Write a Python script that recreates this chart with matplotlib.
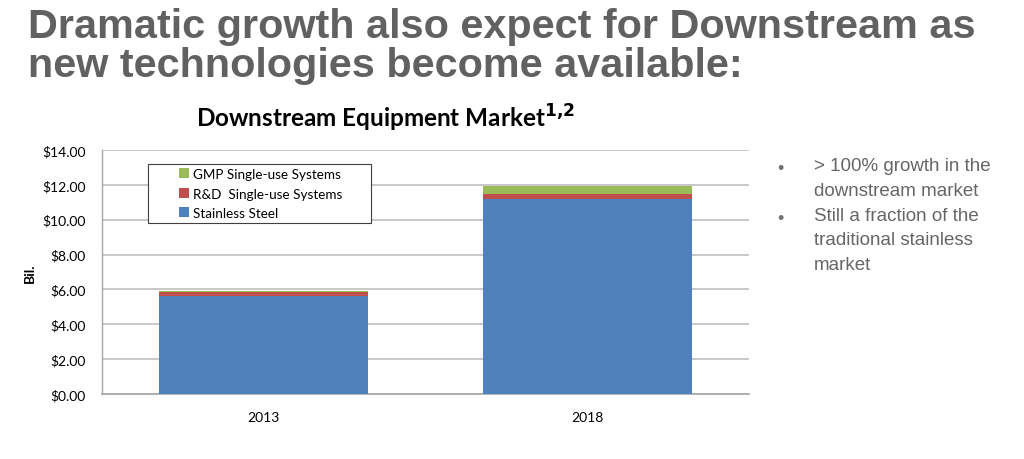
import numpy as np
from matplotlib import pyplot as plt
from matplotlib.patches import Rectangle

# data (billions USD)
years = ["2013", "2018"]
stainless = [5.60, 11.17]
rnd_single_use = [0.27, 0.28]
gmp_single_use = [0.06, 0.50]

yticks = [0, 2, 4, 6, 8, 10, 12, 14]
heading = ["Dramatic growth also expect for Downstream as",
           "new technologies become available:"]
bullet_text = ("> 100% growth in the\ndownstream market\n"
               "Still a fraction of the\ntraditional stainless\nmarket")
bullet_lines = [0, 2]


def main():
    fig = plt.figure(figsize=(10.24, 4.6), dpi=100)
    ax = fig.add_axes([102 / 1024, 1 - 395 / 460, 647 / 1024, 244 / 460])

    x = np.arange(len(years))
    w = 0.645
    blue = "#4F81BD"
    red = "#C0504D"
    green = "#9BBB59"

    b1 = ax.bar(x, stainless, width=w, color=blue, label="Stainless Steel", zorder=3)
    base = np.array(stainless)
    b2 = ax.bar(x, rnd_single_use, width=w, bottom=base, color=red,
                label="R&D  Single-use Systems", zorder=3)
    base = base + np.array(rnd_single_use)
    b3 = ax.bar(x, gmp_single_use, width=w, bottom=base, color=green,
                label="GMP Single-use Systems", zorder=3)

    ax.set_xlim(-0.5, len(years) - 0.5)
    ax.set_ylim(0, 14)
    ax.set_yticks(yticks)
    ax.set_yticklabels([f"${v:.2f}" for v in yticks], fontsize=10, family="Lato")
    ax.set_xticks(x)
    ax.set_xticklabels(years, fontsize=10, family="Lato")
    ax.tick_params(axis="y", length=0, pad=12)
    ax.tick_params(axis="x", length=0, pad=12)
    ax.grid(axis="y", color="#BFBFBF", linewidth=1.2, zorder=0)
    for s in ["top", "right"]:
        ax.spines[s].set_visible(False)
    ax.spines["left"].set_color("#A6A6A6")
    ax.spines["bottom"].set_color("#A6A6A6")
    ax.spines["left"].set_linewidth(1.0)
    ax.spines["bottom"].set_linewidth(1.2)
    ax.set_ylabel("Bil.", fontsize=10, fontweight="bold", family="Lato", labelpad=4)

    # legend box drawn separately so it can be as roomy as the Excel one
    box = Rectangle((46 / 647, 1 - 73 / 244), 223 / 647, 59 / 244, transform=ax.transAxes,
                    facecolor="white", edgecolor="#404040", linewidth=0.8, zorder=4)
    ax.add_patch(box)
    leg = ax.legend(handles=[b3, b2, b1], loc="upper left",
                    bbox_to_anchor=(77 / 647, 1 - 18 / 244), frameon=False,
                    prop={"family": "Lato", "size": 9.7}, handlelength=0.75,
                    handleheight=0.75, handletextpad=0.3, borderpad=0,
                    labelspacing=0.56, borderaxespad=0)
    leg.set_zorder(5)

    # slide heading, one text per line so the baselines sit where the slide has them
    for line, base_y in zip(heading, [38, 77]):
        fig.text(28 / 1024, 1 - base_y / 460, line, fontsize=29.8, fontweight="bold",
                 color="#616161", family="Liberation Sans", ha="left", va="baseline")

    fig.text(385 / 1024, 1 - 118 / 460, r"Downstream Equipment Market$^{\mathbf{1{,}2}}$",
             fontsize=17.5, fontweight="bold", family="Lato", ha="center", va="center")

    # bullet points
    fig.text(814 / 1024, 1 - 158 / 460, bullet_text, fontsize=13.5, color="#666666",
             family="Liberation Sans", ha="left", va="top", linespacing=1.6)
    for i in bullet_lines:
        fig.text(777 / 1024, 1 - (170 + 25 * i) / 460, "\u2022", fontsize=13,
                 color="#707070", family="Liberation Sans", ha="left", va="center")

    plt.savefig("out.png", dpi=100)


if __name__ == '__main__':
    main()
